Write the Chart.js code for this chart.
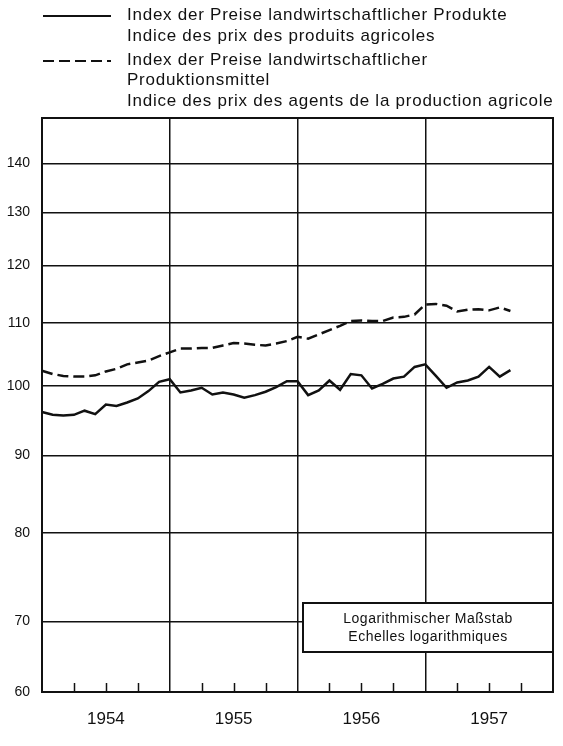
<!DOCTYPE html>
<html>
<head>
<meta charset="utf-8">
<script src="https://cdn.jsdelivr.net/npm/chart.js@4.4.1/dist/chart.umd.min.js"></script>
<style>
  html, body { margin: 0; padding: 0; background: #fff; }
  #wrap { position: relative; width: 563px; height: 746px; }
  #chart { position: absolute; left: 0; top: 0; }
  .leg { position: absolute; left: 127px; font: 17px "Liberation Sans", Arial, sans-serif; letter-spacing: 0.75px; color: #111; line-height: 20px; white-space: nowrap; }
  .muster { position: absolute; left: 43px; }
</style>
</head>
<body>
<div id="wrap">
  <canvas id="chart" width="563" height="746"></canvas>

  <svg class="muster" style="top:10px" width="68" height="12"><line x1="0" y1="6" x2="68" y2="6" stroke="#111" stroke-width="2"/></svg>
  <div class="leg" style="top:5px">Index der Preise landwirtschaftlicher Produkte</div>
  <div class="leg" style="top:26px">Indice des prix des produits agricoles</div>

  <svg class="muster" style="top:55px" width="68" height="12"><line x1="0" y1="6" x2="68" y2="6" stroke="#111" stroke-width="2" stroke-dasharray="11 5"/></svg>
  <div class="leg" style="top:50px">Index der Preise landwirtschaftlicher</div>
  <div class="leg" style="top:70px">Produktionsmittel</div>
  <div class="leg" style="top:91px">Indice des prix des agents de la production agricole</div>
</div>

<script>
// ========================
// DATEN
// ========================
// Monatswerte, Dez 1953 bis Aug 1957 (Rest von 1957 leer)
const monate = [
  "12.1953",
  "1.1954","2.1954","3.1954","4.1954","5.1954","6.1954","7.1954","8.1954","9.1954","10.1954","11.1954","12.1954",
  "1.1955","2.1955","3.1955","4.1955","5.1955","6.1955","7.1955","8.1955","9.1955","10.1955","11.1955","12.1955",
  "1.1956","2.1956","3.1956","4.1956","5.1956","6.1956","7.1956","8.1956","9.1956","10.1956","11.1956","12.1956",
  "1.1957","2.1957","3.1957","4.1957","5.1957","6.1957","7.1957","8.1957","9.1957","10.1957","11.1957","12.1957"
];

const produkte = [
  96.1,
  95.7, 95.6, 95.7, 96.3, 95.8, 97.2, 97.0, 97.5, 98.1, 99.2, 100.6, 101.0,
  99.0, 99.3, 99.7, 98.7, 99.0, 98.7, 98.2, 98.6, 99.1, 99.8, 100.7, 100.7,
  98.6, 99.3, 100.8, 99.4, 101.8, 101.6, 99.6, 100.3, 101.1, 101.4, 102.9, 103.3,
  101.5, 99.7, 100.5, 100.8, 101.4, 102.9, 101.4, 102.4, null, null, null, null
];

const produktionsmittel = [
  102.3,
  101.8, 101.5, 101.4, 101.4, 101.6, 102.2, 102.6, 103.3, 103.6, 103.9, 104.6, 105.2,
  105.8, 105.8, 105.9, 105.9, 106.3, 106.7, 106.6, 106.4, 106.3, 106.6, 107.0, 107.7,
  107.4, 108.1, 108.8, 109.5, 110.3, 110.4, 110.3, 110.3, 110.9, 111.0, 111.4, 113.1,
  113.2, 112.9, 111.9, 112.2, 112.3, 112.1, 112.6, 112.0, null, null, null, null
];

const jahre = ["1954", "1955", "1956", "1957"];

// y-Achse: die unterste Linie ist mit 60 beschriftet, liegt aber (Achsenbruch) bei ca. 62,9
const yTickWerte = [62.9, 70, 80, 90, 100, 110, 120, 130, 140];
const yTickLabels = ["60", "70", "80", "90", "100", "110", "120", "130", "140"];
const yMax = 150;

const hinweis = ["Logarithmischer Maßstab", "Echelles logarithmiques"];

// ========================
// ZEICHNEN
// ========================
const schrift = '"Liberation Sans", Arial, sans-serif';
const tinte = "#111";

// Rahmen, Quartalsstriche und Hinweiskasten
const extras = {
  id: "extras",
  afterDraw(chart) {
    const ctx = chart.ctx;
    const a = chart.chartArea;
    const x = chart.scales.x;

    ctx.save();
    ctx.strokeStyle = tinte;
    ctx.lineWidth = 2;
    ctx.strokeRect(a.left, a.top, a.right - a.left, a.bottom - a.top);

    // Quartalsstriche nach innen
    ctx.lineWidth = 1.5;
    monate.forEach((m, i) => {
      if (i % 3 === 0 && i % 12 !== 0) {
        const px = Math.round(x.getPixelForValue(i)) + 0.5;
        ctx.beginPath();
        ctx.moveTo(px, a.bottom);
        ctx.lineTo(px, a.bottom - 9);
        ctx.stroke();
      }
    });

    // Kasten unten rechts
    const bx = a.right - 250, by = a.bottom - 89, bw = 250, bh = 49;
    ctx.fillStyle = "#fff";
    ctx.fillRect(bx, by, bw, bh);
    ctx.lineWidth = 2;
    ctx.strokeRect(bx, by, bw, bh);
    ctx.fillStyle = tinte;
    ctx.font = "14px " + schrift;
    ctx.letterSpacing = "0.5px";
    ctx.textAlign = "center";
    ctx.textBaseline = "middle";
    ctx.fillText(hinweis[0], bx + bw / 2, by + 16);
    ctx.fillText(hinweis[1], bx + bw / 2, by + 34);
    ctx.restore();
  }
};

new Chart(document.getElementById("chart"), {
  type: "line",
  data: {
    labels: monate,
    datasets: [
      {
        label: "Index der Preise landwirtschaftlicher Produkte",
        data: produkte,
        borderColor: tinte,
        borderWidth: 2.5,
        pointRadius: 0,
        tension: 0,
        fill: false
      },
      {
        label: "Index der Preise landwirtschaftlicher Produktionsmittel",
        data: produktionsmittel,
        borderColor: tinte,
        borderWidth: 2.5,
        borderDash: [11, 5],
        pointRadius: 0,
        tension: 0,
        fill: false
      }
    ]
  },
  options: {
    responsive: false,
    animation: false,
    devicePixelRatio: 1,
    layout: { padding: { top: 118, right: 10, left: 0, bottom: 0 } },
    plugins: {
      legend: { display: false },
      tooltip: { enabled: false }
    },
    scales: {
      x: {
        type: "category",
        offset: false,
        afterFit(s) {
          s.height = 54;
          s.paddingLeft = 0;
          s.paddingRight = 0;
        },
        border: { display: true, color: tinte, width: 2 },
        grid: {
          drawTicks: false,
          lineWidth: 1.5,
          color: (c) => (c.index % 12 === 0 ? tinte : "rgba(0,0,0,0)")
        },
        ticks: {
          autoSkip: false,
          maxRotation: 0,
          padding: 17,
          color: tinte,
          font: { family: schrift, size: 17 },
          callback: (v, i) => (i % 12 === 6 ? jahre[(i - 6) / 12] : "")
        }
      },
      y: {
        type: "logarithmic",
        min: yTickWerte[0],
        max: yMax,
        afterFit(s) { s.width = 42; },
        afterBuildTicks(s) { s.ticks = yTickWerte.map((v) => ({ value: v })); },
        border: { display: true, color: tinte, width: 2 },
        grid: { drawTicks: false, lineWidth: 1.5, color: tinte },
        ticks: {
          padding: 12,
          color: tinte,
          font: { family: schrift, size: 14 },
          callback: (v, i) => yTickLabels[i]
        }
      }
    }
  },
  plugins: [extras]
});
</script>
</body>
</html>
